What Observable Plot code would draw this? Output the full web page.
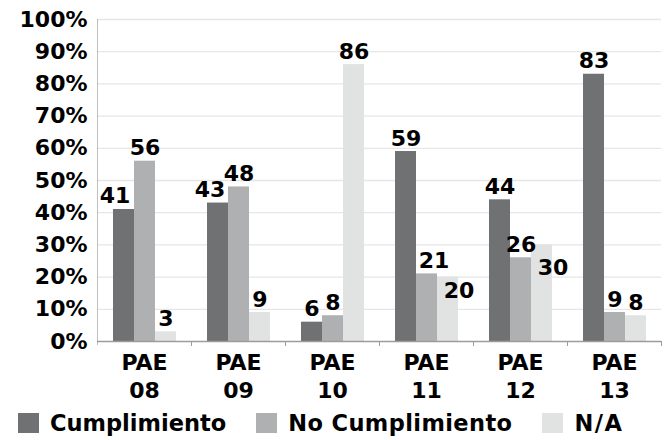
<!DOCTYPE html>
<html><head><meta charset="utf-8">
<script src="https://cdn.jsdelivr.net/npm/d3@7"></script>
<script src="https://cdn.jsdelivr.net/npm/@observablehq/plot@0.6"></script>
<style>
body{margin:0;background:#fff;font-family:"DejaVu Sans",sans-serif;}
#chart{width:664px;height:440px;overflow:hidden;}
#chart svg{display:block;}
.legend{display:flex;align-items:center;height:34px;margin-top:0px;padding-left:18px;font-weight:bold;font-size:22.5px;color:#000;}
.item{display:flex;align-items:center;margin-right:30px;}
.item:nth-child(2){letter-spacing:0.4px;}
.item:nth-child(3) span:last-child{letter-spacing:1.5px;}
.sw{width:21px;height:20px;margin-right:11px;}
</style></head><body><div id="chart"></div>
<script>
const groups = ["PAE 08", "PAE 09", "PAE 10", "PAE 11", "PAE 12", "PAE 13"];
const series = ["Cumplimiento", "No Cumplimiento", "N/A"];
const cumplimiento = [41, 43, 6, 59, 44, 83];
const noCumplimiento = [56, 48, 8, 21, 26, 9];
const na = [3, 9, 86, 20, 30, 8];
const yTicks = [0, 10, 20, 30, 40, 50, 60, 70, 80, 90, 100];
const colors = ["#707173", "#afb0b2", "#e1e2e2"];

const seriesValues = [cumplimiento, noCumplimiento, na];
const rows = groups.flatMap((g, i) => series.map((s, j) => ({group: g, series: s, value: seriesValues[j][i]})));

const W = 664, H = 406, mL = 95, mR = 1, mT = 19, mB = 65;
const facetW = (W - mL - mR) / groups.length;
const innerH = H - mT - mB;
const font = {fontSize: 22, fontWeight: "bold", fill: "#000"};

const is = (g, s) => d => d.group === g && d.series === s;
const adjusted = [is("PAE 08","Cumplimiento"), is("PAE 09","Cumplimiento"), is("PAE 11","No Cumplimiento"), is("PAE 11","N/A"), is("PAE 12","N/A")];
const label = (filter, dx = 0, dy = 0) => Plot.text(rows, {
  filter, fx: "group", x: "series", y: "value", text: d => String(d.value),
  lineAnchor: "bottom", dx, dy: dy - 6, ...font
});

const plot = Plot.plot({
  width: W, height: H,
  marginLeft: mL, marginRight: mR, marginTop: mT, marginBottom: mB,
  style: {fontFamily: "'DejaVu Sans', sans-serif", background: "#fff"},
  fx: {domain: groups, padding: 0, axis: null, label: null},
  x: {domain: series, paddingInner: 0, paddingOuter: 0.68, axis: null, label: null},
  y: {domain: [0, 100], axis: null},
  color: {domain: series, range: colors},
  marks: [
    Plot.ruleY(yTicks.slice(1), {stroke: "#e6e6e6", strokeWidth: 1.3}),
    Plot.barY(rows, {fx: "group", x: "series", y: "value", fill: "series"}),
    Plot.ruleY([0], {stroke: "#9c9c9c", strokeWidth: 1.3}),
    Plot.frame({anchor: "right", stroke: "#9c9c9c", insetTop: innerH, insetBottom: -4}),
    Plot.rect([groups[0]], {fx: d => d, y1: 0, y2: 100, fill: "#9c9c9c", insetRight: facetW - 1.3, insetBottom: -4}),
    Plot.axisY({ticks: yTicks, tickFormat: d => d + "%", tickSize: 0, tickPadding: 10, label: null, ...font}),
    Plot.axisFx({anchor: "bottom", tickSize: 0, tickPadding: 8, label: null, lineHeight: 1.3,
      tickFormat: g => g.replace(" ", "\n"), ...font}),
    label(d => !adjusted.some(f => f(d))),
    label(adjusted[0], -9),
    label(adjusted[1], -8),
    label(adjusted[2], 7),
    label(adjusted[3], 11, 27),
    label(adjusted[4], 11, 36)
  ]
});

const chart = document.getElementById("chart");
chart.appendChild(plot);
const legend = document.createElement("div");
legend.className = "legend";
series.forEach((s, j) => {
  const item = document.createElement("div");
  item.className = "item";
  const sw = document.createElement("span");
  sw.className = "sw";
  sw.style.background = colors[j];
  const t = document.createElement("span");
  t.textContent = s;
  item.appendChild(sw); item.appendChild(t);
  legend.appendChild(item);
});
chart.appendChild(legend);
</script>
</body></html>
